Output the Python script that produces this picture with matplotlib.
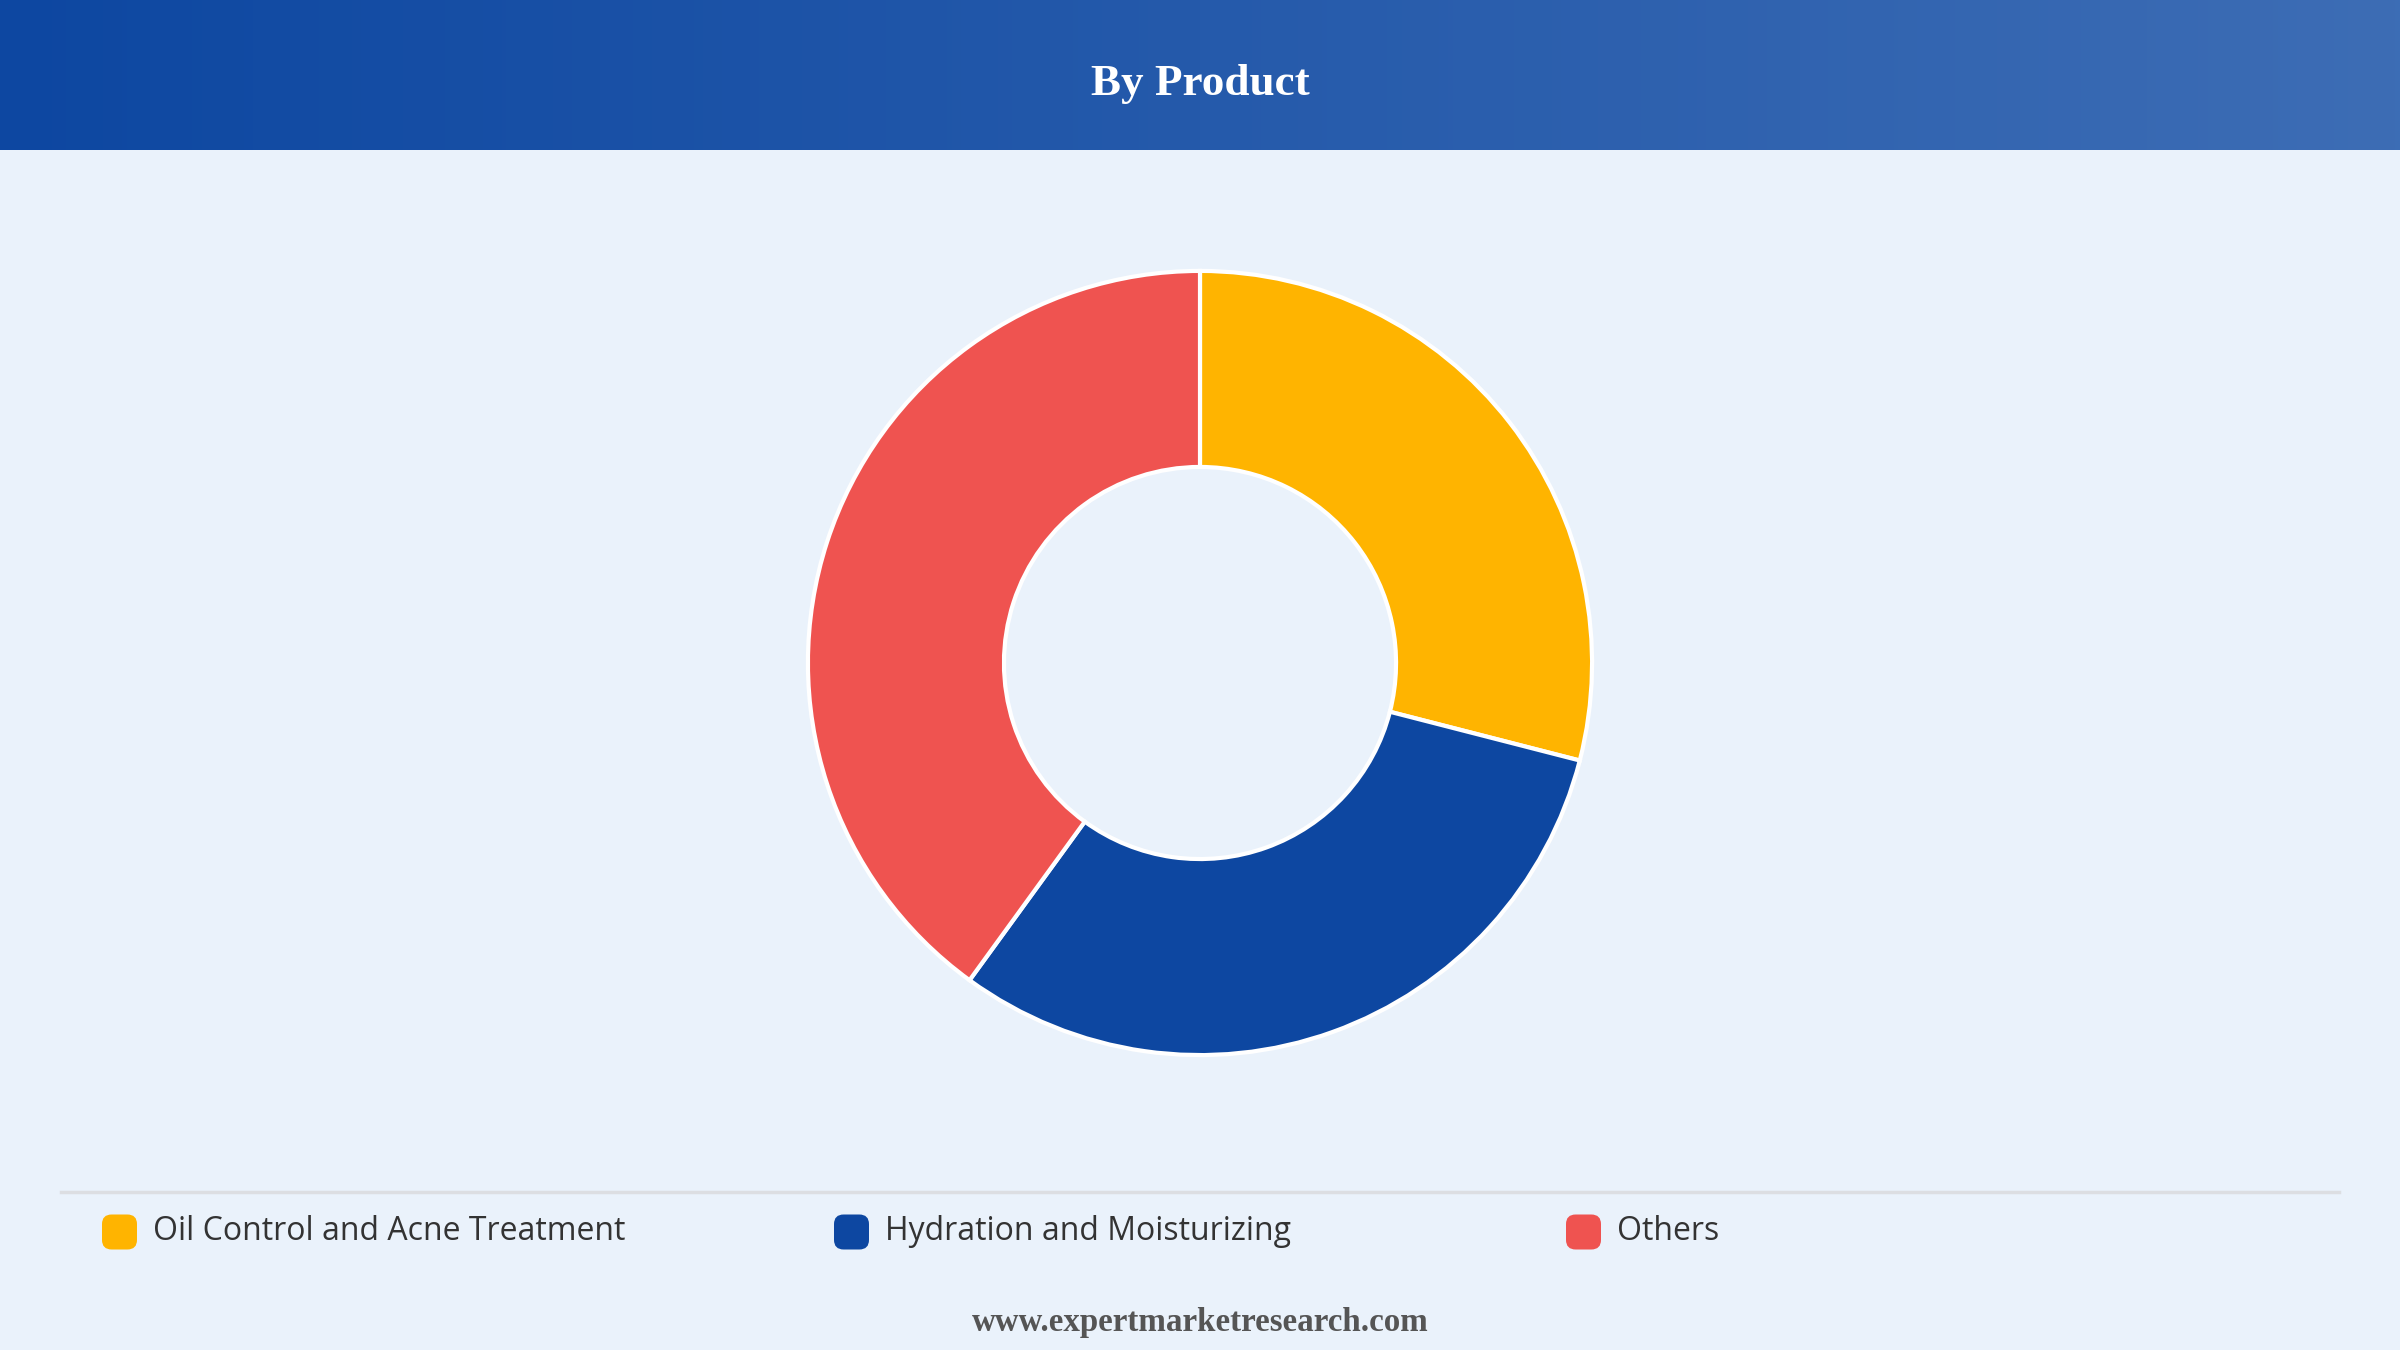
"""
By Product donut chart
"""

import numpy as np
import matplotlib.pyplot as plt
from matplotlib.patches import FancyBboxPatch
from matplotlib.lines import Line2D

# 数据
categories = ['Oil Control and Acne Treatment', 'Hydration and Moisturizing', 'Others']
shares = [29, 31, 40]
colors = ['#FFB400', '#0D47A1', '#EF5350']

title = 'By Product'
footer = 'www.expertmarketresearch.com'

W, H = 2400, 1350
DPI = 100
BG = '#EAF2FB'

fig = plt.figure(figsize=(W / DPI, H / DPI), dpi=DPI, facecolor=BG)

# 顶部渐变标题栏
header_h = 150
hax = fig.add_axes([0, 1 - header_h / H, 1, header_h / H])
c0 = np.array([0x0D, 0x47, 0xA1]) / 255
c1 = np.array([0x3D, 0x6D, 0xB5]) / 255
t = np.linspace(0, 1, 512)[None, :, None]
grad = c0 + (c1 - c0) * t
hax.imshow(grad, aspect='auto', extent=[0, 1, 0, 1])
hax.set_axis_off()
fig.text(0.5, 1 - 84 / H, title, ha='center', va='center', color='white',
         fontsize=32.5, fontweight='bold', family='Liberation Serif')

# 环形图
cx, cy, r = 1200, 663, 396
ax = fig.add_axes([(cx - r) / W, (H - cy - r) / H, 2 * r / W, 2 * r / H])
ax.set_facecolor('none')
ax.pie(shares, colors=colors, startangle=90, counterclock=False, radius=1,
       wedgeprops=dict(width=0.5, edgecolor='white', linewidth=3))
ax.set_xlim(-1.01, 1.01)
ax.set_ylim(-1.01, 1.01)
ax.set_axis_off()

# 分隔线
fig.add_artist(Line2D([61 / W, 2339 / W], [1 - 1192 / H] * 2,
                      color='#DCDEE2', linewidth=2.5, transform=fig.transFigure))

# 图例
marker_x = [102, 834, 1566]
ly = 1232
sz = 35
for x, name, col in zip(marker_x, categories, colors):
    box = FancyBboxPatch(((x) / W, (H - ly - sz / 2) / H), sz / W, sz / H,
                         boxstyle='round,pad=0,rounding_size=0.004',
                         transform=fig.transFigure, facecolor=col,
                         edgecolor='none', mutation_aspect=W / H)
    fig.add_artist(box)
    fig.text((x + sz + 16) / W, 1 - ly / H, name, ha='left', va='center',
             fontsize=23, color='#333333', family='Open Sans')

# 底部网址
fig.text(0.5, 1 - 1323 / H, footer, ha='center', va='center',
         fontsize=23.8, fontweight='bold', color='#555555', family='Liberation Serif')

fig.savefig('out.png', dpi=DPI, facecolor=BG)
